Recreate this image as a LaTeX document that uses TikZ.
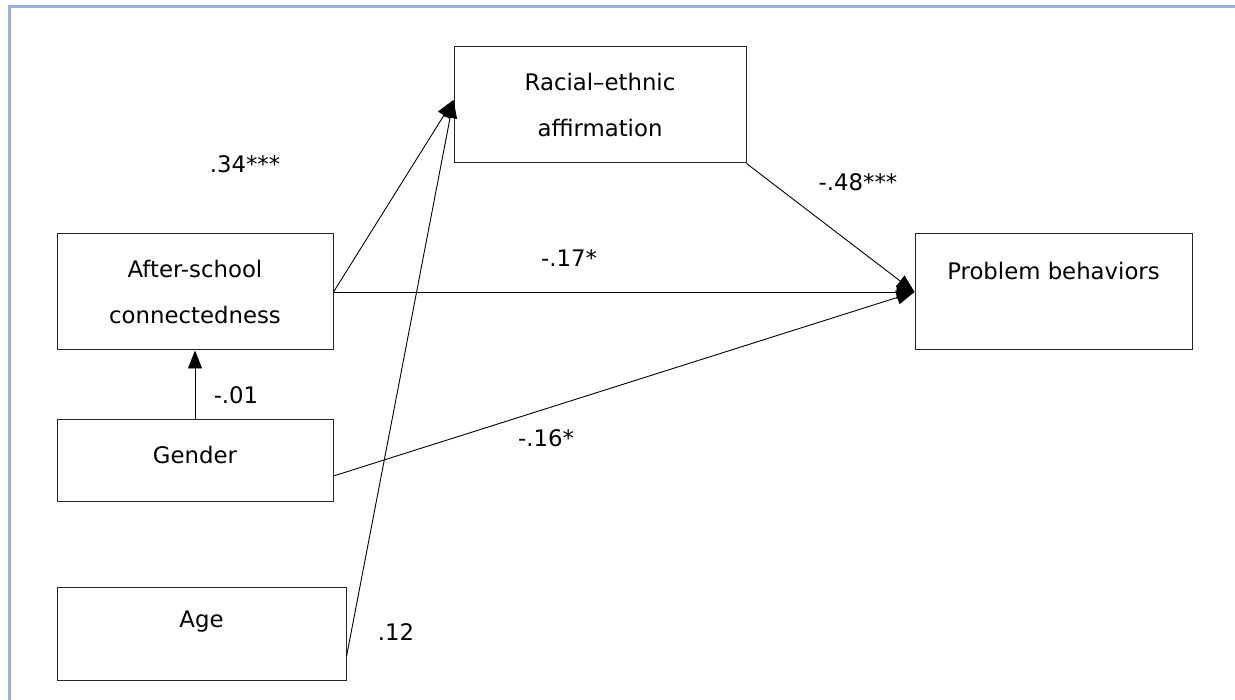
\documentclass[tikz,border=0pt]{standalone}
\usepackage{fontspec}
\setmainfont{DejaVu Sans}
\usetikzlibrary{arrows.meta}
\definecolor{frameblue}{RGB}{152,178,224}
\begin{document}
\begin{tikzpicture}[x=1pt,y=-1pt,
  box/.style={draw=black!85, line width=1pt, inner sep=0pt, font=\fontsize{22.8}{46}\selectfont, align=center},
  conn/.style={line width=0.9pt, -{Triangle[length=18pt,width=14pt]}},
  lbl/.style={font=\fontsize{22.8}{27}\selectfont, inner sep=0pt}]
\useasboundingbox (0,0) rectangle (1235,700);
\draw[line width=3pt, frameblue] (9,700) -- (9,7) -- (1235,7);
% boxes
\node[box, minimum width=292pt, minimum height=116pt] (rac) at (600,105) {Racial--ethnic\\affirmation};
\node[box, minimum width=276pt, minimum height=116pt] (as) at (195,292) {After-school\\connectedness};
\node[box, minimum width=276pt, minimum height=82pt] (gen) at (195,461) {};
\node[lbl] (gentxt) at (195,455) {Gender};
\node[box, minimum width=289pt, minimum height=93pt] (age) at (201.5,633.5) {};
\node[lbl] (agetxt) at (201.5,622) {Age};
\node[box, minimum width=277pt, minimum height=116pt] (prob) at (1053.5,292) {};
\node[lbl] (probtxt) at (1053.5,271) {Problem behaviors};
% connectors
\draw[conn] (as.east) -- ([yshift=5pt]rac.west);
\draw[conn] ([yshift=-23pt]age.east) -- ([yshift=5pt]rac.west);
\draw[conn] (rac.south east) -- (prob.west);
\draw[conn] (as.east) -- (prob.west);
\draw[conn] ([yshift=-15pt]gen.east) -- (prob.west);
\draw[conn] (gen.north) -- (as.south);
% labels
\node[lbl] (l34) at (245,164) {.34***};
\node[lbl] (l48) at (858,182) {-.48***};
\node[lbl] (l17) at (569,258) {-.17*};
\node[lbl] (l01) at (236,395) {-.01};
\node[lbl] (l16) at (546,438) {-.16*};
\node[lbl] (l12) at (396,632) {.12};
\end{tikzpicture}
\end{document}
